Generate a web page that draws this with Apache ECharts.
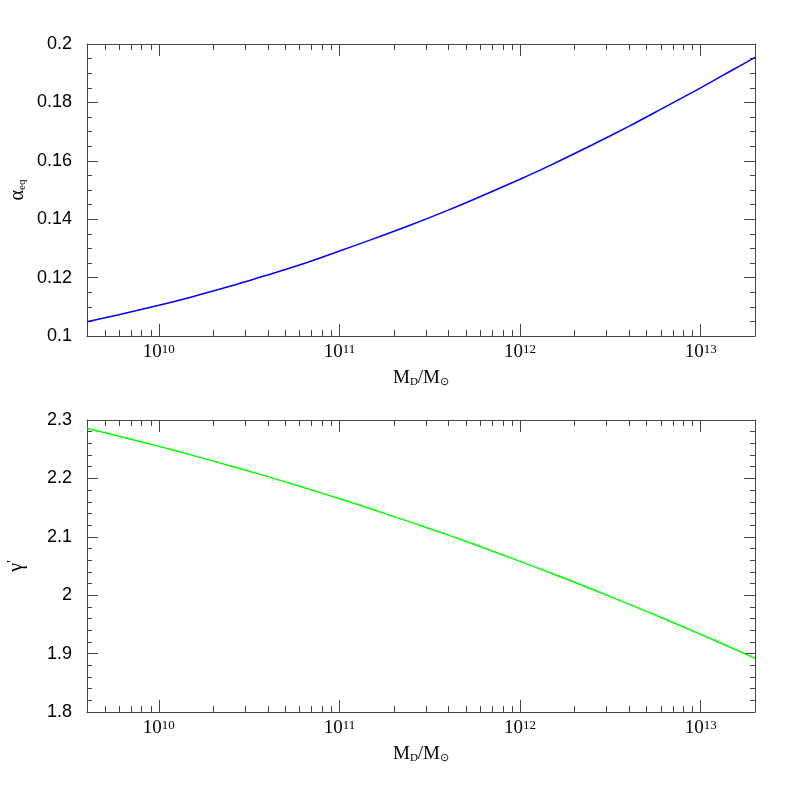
<!DOCTYPE html>
<html><head><meta charset="utf-8">
<script src="https://cdn.jsdelivr.net/npm/echarts@6/dist/echarts.min.js"></script>
<style>html,body{margin:0;padding:0;background:#fff}#c{width:797px;height:797px}</style>
</head><body><div id="c"></div>
<script>
// ---- data ----
const massValues = [4e9, 6e9, 1e10, 1.5e10, 2.5e10, 4e10, 6e10, 1e11, 1.5e11, 2.5e11, 4e11, 6e11, 1e12, 1.5e12, 2.5e12, 4e12, 6e12, 1e13, 1.5e13, 2e13];
const alphaEq    = [0.1049, 0.1073, 0.1105, 0.1133, 0.1171, 0.1209, 0.1243, 0.1291, 0.1330, 0.1381, 0.1431, 0.1477, 0.1537, 0.1587, 0.1654, 0.1718, 0.1776, 0.1850, 0.1911, 0.1954];
const gammaPrime = [2.2856, 2.2723, 2.2548, 2.2403, 2.2213, 2.2030, 2.1867, 2.1652, 2.1476, 2.1247, 2.1028, 2.0833, 2.0579, 2.0372, 2.0103, 1.9848, 1.9622, 1.9329, 1.9091, 1.8918];
const xRange = [4e9, 2e13];
const topYRange = [0.1, 0.2], topYInterval = 0.02, topYMinorSplit = 4;
const botYRange = [1.8, 2.3], botYInterval = 0.1, botYMinorSplit = 5;
const minorMultipliers = [2, 3, 4, 5, 6, 7, 8, 9];
const decades = [9, 10, 11, 12, 13];

const minorTickValues = [];
decades.forEach(e => minorMultipliers.forEach(k => {
  const v = k * Math.pow(10, e);
  if (v > xRange[0] && v < xRange[1]) minorTickValues.push(v);
}));

const axisColor = '#444';
const serif = 'Liberation Serif';
const sans = 'Liberation Sans';

const grids = [
  {left: 87, top: 44, width: 668, height: 292, outerBoundsMode: 'none'},
  {left: 87, top: 420, width: 668, height: 292, outerBoundsMode: 'none'}
];

function xAxisDef(gridIndex, position, withLabels) {
  return {
    type: 'log', logBase: 10, gridIndex, position, min: xRange[0], max: xRange[1],
    axisLine: {show: true, onZero: false, lineStyle: {color: axisColor, width: 1}},
    axisTick: {show: true, inside: true, length: 12, lineStyle: {color: axisColor, width: 1}},
    minorTick: {show: false}, splitLine: {show: false}, minorSplitLine: {show: false},
    axisLabel: {
      show: withLabels, margin: 7,
      formatter: v => {
        const e = Math.log10(v);
        if (Math.abs(e - Math.round(e)) > 1e-6) return '';
        return '{b|10}{s|' + Math.round(e) + '}';
      },
      rich: {
        b: {fontFamily: serif, fontSize: 19, color: '#000'},
        s: {fontFamily: serif, fontSize: 13, color: '#000', verticalAlign: 'top', padding: [0, 0, 6, 0]}
      }
    },
    name: withLabels ? '{m|M}{sub|D}{m|/M}{sub|⊙}' : '',
    nameLocation: 'middle', nameGap: 32, nameMoveOverlap: false,
    nameTextStyle: {
      rich: {
        m: {fontFamily: serif, fontSize: 19, color: '#000'},
        sub: {fontFamily: serif, fontSize: 11, color: '#000', padding: [9, 0, 0, 0]}
      }
    }
  };
}

function yAxisDef(gridIndex, position, range, interval, minorSplit, withLabels, name, nameRich) {
  return {
    type: 'value', gridIndex, position, min: range[0], max: range[1], interval,
    axisLine: {show: true, onZero: false, lineStyle: {color: axisColor, width: 1}},
    axisTick: {show: true, inside: true, length: 11, lineStyle: {color: axisColor, width: 1}},
    minorTick: {show: true, splitNumber: minorSplit, length: 5, lineStyle: {color: axisColor, width: 1}},
    splitLine: {show: false}, minorSplitLine: {show: false},
    axisLabel: {show: withLabels, margin: 15, fontFamily: sans, fontSize: 18, color: '#000'},
    name: withLabels ? name : '',
    nameLocation: 'middle', nameGap: 59, nameRotate: 90, nameMoveOverlap: false,
    nameTextStyle: {rich: nameRich}
  };
}

const alphaRich = {
  a: {fontFamily: serif, fontSize: 20, color: '#000'},
  sub: {fontFamily: serif, fontSize: 11, color: '#000', padding: [9, 0, 0, 0]}
};
const gammaRich = {
  g: {fontFamily: serif, fontSize: 20, color: '#000'},
  sup: {fontFamily: serif, fontSize: 14, color: '#000', padding: [0, 0, 8, 0]}
};

function minorTickSeries(xAxisIndex, yAxisIndex, yRef) {
  return {
    type: 'custom', xAxisIndex, yAxisIndex, silent: true, clip: false, z: 5,
    data: minorTickValues.map(v => [v, yRef]),
    encode: {x: 0, y: 1},
    renderItem(params, api) {
      const p = api.coord([api.value(0), api.value(1)]);
      const cs = params.coordSys;
      const x = Math.round(p[0]) + 0.5;
      const st = {stroke: axisColor, lineWidth: 1};
      return {type: 'group', children: [
        {type: 'line', shape: {x1: x, y1: cs.y + cs.height, x2: x, y2: cs.y + cs.height - 6}, style: st},
        {type: 'line', shape: {x1: x, y1: cs.y, x2: x, y2: cs.y + 6}, style: st}
      ]};
    }
  };
}

const chart = echarts.init(document.getElementById('c'), null, {renderer: 'canvas'});
chart.setOption({
  animation: false,
  backgroundColor: '#fff',
  grid: grids,
  xAxis: [
    xAxisDef(0, 'bottom', true), xAxisDef(0, 'top', false),
    xAxisDef(1, 'bottom', true), xAxisDef(1, 'top', false)
  ],
  yAxis: [
    yAxisDef(0, 'left', topYRange, topYInterval, topYMinorSplit, true, '{a|α}{sub|eq}', alphaRich),
    yAxisDef(0, 'right', topYRange, topYInterval, topYMinorSplit, false, '', alphaRich),
    yAxisDef(1, 'left', botYRange, botYInterval, botYMinorSplit, true, '{g|γ}{sup|\'}', gammaRich),
    yAxisDef(1, 'right', botYRange, botYInterval, botYMinorSplit, false, '', gammaRich)
  ],
  series: [
    {type: 'line', xAxisIndex: 0, yAxisIndex: 0, data: massValues.map((m, i) => [m, alphaEq[i]]),
     showSymbol: false, smooth: 0.3, lineStyle: {color: '#0000ff', width: 1.5}, z: 3},
    {type: 'line', xAxisIndex: 2, yAxisIndex: 2, data: massValues.map((m, i) => [m, gammaPrime[i]]),
     showSymbol: false, smooth: 0.3, lineStyle: {color: '#00ff00', width: 1.5}, z: 3},
    minorTickSeries(0, 0, 0.15),
    minorTickSeries(2, 2, 2.0)
  ]
});
</script></body></html>
